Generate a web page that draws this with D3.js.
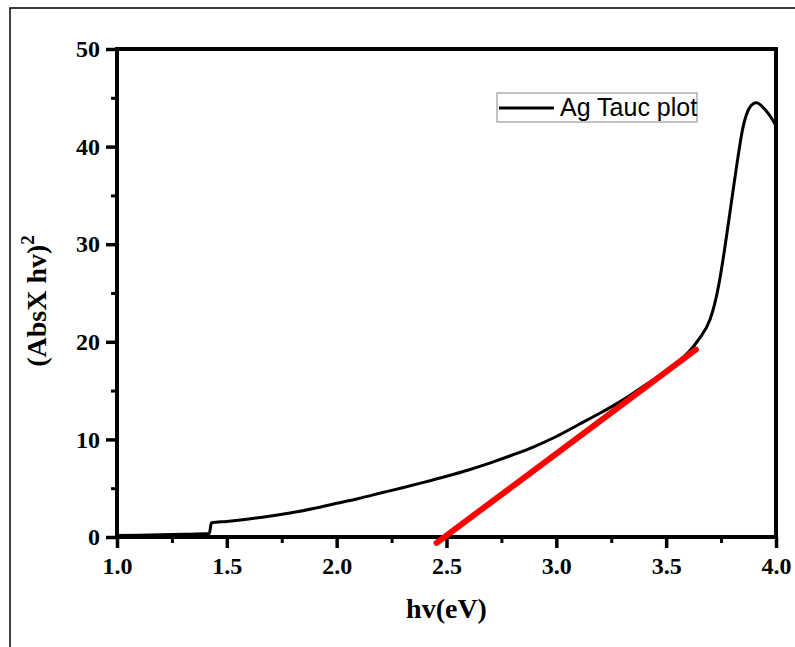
<!DOCTYPE html>
<html lang="en">
<head>
    <meta charset="UTF-8">
    <title>Ag Tauc plot</title>
    <script src="https://d3js.org/d3.v7.min.js"></script>
    <style>
        body { margin: 0; background: #fff; }
        .tick text { font-family: "Liberation Serif", "Times New Roman", serif; font-weight: bold; font-size: 24px; fill: #000; }
        .axis-title { font-family: "Liberation Serif", "Times New Roman", serif; font-weight: bold; font-size: 28px; }
        .legend text { font-family: "Liberation Sans", Arial, sans-serif; font-size: 25px; }
    </style>
</head>
<body>
    <svg width="795" height="647"></svg>

    <script>
        // photon energy (eV) vs (Abs x hv)^2
        const hv = [1.00, 1.10, 1.20, 1.30, 1.42, 1.43, 1.50, 1.60, 1.70, 1.80, 1.90, 2.00, 2.10, 2.20, 2.30,
                    2.40, 2.50, 2.60, 2.70, 2.80, 2.90, 3.00, 3.10, 3.20, 3.30, 3.40, 3.50, 3.55, 3.60, 3.65,
                    3.70, 3.72, 3.74, 3.76, 3.79, 3.82, 3.85, 3.88, 3.91, 3.95, 3.98, 4.00];
        const tauc = [0.15, 0.18, 0.22, 0.27, 0.35, 1.45, 1.6, 1.85, 2.15, 2.5, 2.95, 3.45, 3.95, 4.5, 5.05,
                      5.62, 6.22, 6.87, 7.6, 8.4, 9.27, 10.3, 11.5, 12.7, 14.0, 15.5, 17.0, 17.9, 18.9, 20.3,
                      22.3, 23.8, 25.9, 28.6, 33.2, 37.9, 42.0, 44.0, 44.5, 43.8, 42.9, 42.1];

        // linear fit (red line)
        const fitX = [2.455, 3.635];
        const fitY = [-0.6, 19.2];

        const xTicks = [1.0, 1.5, 2.0, 2.5, 3.0, 3.5, 4.0];
        const xMinor = [1.25, 1.75, 2.25, 2.75, 3.25, 3.75];
        const yTicks = [0, 10, 20, 30, 40, 50];
        const yMinor = [5, 15, 25, 35, 45];

        const svg = d3.select("svg");
        const pLeft = 117, pRight = 776, pTop = 49, pBottom = 537;

        const x = d3.scaleLinear().domain([1, 4]).range([pLeft, pRight]);
        const y = d3.scaleLinear().domain([0, 50]).range([pBottom, pTop]);

        // outer frame (left and top edges visible)
        svg.append("path")
            .attr("d", "M10,647 L10,8 L795,8")
            .attr("fill", "none")
            .attr("stroke", "#000")
            .attr("stroke-width", 1.5);

        // minor ticks
        svg.append("g")
            .attr("transform", `translate(0,${pBottom})`)
            .call(d3.axisBottom(x).tickValues(xMinor).tickSize(6).tickFormat(""))
            .call(g => g.select(".domain").remove())
            .call(g => g.selectAll("line").attr("stroke-width", 3));
        svg.append("g")
            .attr("transform", `translate(${pLeft},0)`)
            .call(d3.axisLeft(y).tickValues(yMinor).tickSize(6).tickFormat(""))
            .call(g => g.select(".domain").remove())
            .call(g => g.selectAll("line").attr("stroke-width", 3));

        // major ticks + labels
        svg.append("g")
            .attr("transform", `translate(0,${pBottom})`)
            .call(d3.axisBottom(x).tickValues(xTicks).tickSize(11).tickSizeOuter(0).tickPadding(9).tickFormat(d3.format(".1f")))
            .call(g => g.select(".domain").remove())
            .call(g => g.selectAll("line").attr("stroke-width", 3.5));
        svg.append("g")
            .attr("transform", `translate(${pLeft},0)`)
            .call(d3.axisLeft(y).tickValues(yTicks).tickSize(11).tickSizeOuter(0).tickPadding(6))
            .call(g => g.select(".domain").remove())
            .call(g => g.selectAll("line").attr("stroke-width", 3.5));

        // plot frame
        svg.append("rect")
            .attr("x", pLeft).attr("y", pTop)
            .attr("width", pRight - pLeft).attr("height", pBottom - pTop)
            .attr("fill", "none")
            .attr("stroke", "#000")
            .attr("stroke-width", 4);

        const pts = hv.map((d, i) => [d, tauc[i]]);
        const line = d3.line().x(d => x(d[0])).y(d => y(d[1])).curve(d3.curveMonotoneX);

        svg.append("path")
            .datum(pts)
            .attr("d", line)
            .attr("fill", "none")
            .attr("stroke", "#000")
            .attr("stroke-width", 3);

        svg.append("path")
            .datum(fitX.map((d, i) => [d, fitY[i]]))
            .attr("d", d3.line().x(d => x(d[0])).y(d => y(d[1])))
            .attr("stroke", "#ff0000")
            .attr("stroke-width", 6)
            .attr("stroke-linecap", "round");

        // axis titles
        svg.append("text")
            .attr("class", "axis-title")
            .attr("x", (pLeft + pRight) / 2)
            .attr("y", 618)
            .attr("text-anchor", "middle")
            .text("hv(eV)");

        const yt = svg.append("text")
            .attr("class", "axis-title")
            .attr("transform", "translate(46,301) rotate(-90)")
            .attr("text-anchor", "middle");
        yt.append("tspan").text("(AbsX hv)");
        yt.append("tspan").attr("dy", -12).attr("font-size", 19).text("2");

        // legend
        const lg = svg.append("g").attr("class", "legend");
        lg.append("rect")
            .attr("x", 497).attr("y", 93)
            .attr("width", 200).attr("height", 29)
            .attr("fill", "#fff")
            .attr("stroke", "#888")
            .attr("stroke-width", 1);
        lg.append("line")
            .attr("x1", 499).attr("x2", 554)
            .attr("y1", 108).attr("y2", 108)
            .attr("stroke", "#000")
            .attr("stroke-width", 3);
        lg.append("text")
            .attr("x", 560).attr("y", 116)
            .text("Ag Tauc plot");
    </script>
</body>
</html>
